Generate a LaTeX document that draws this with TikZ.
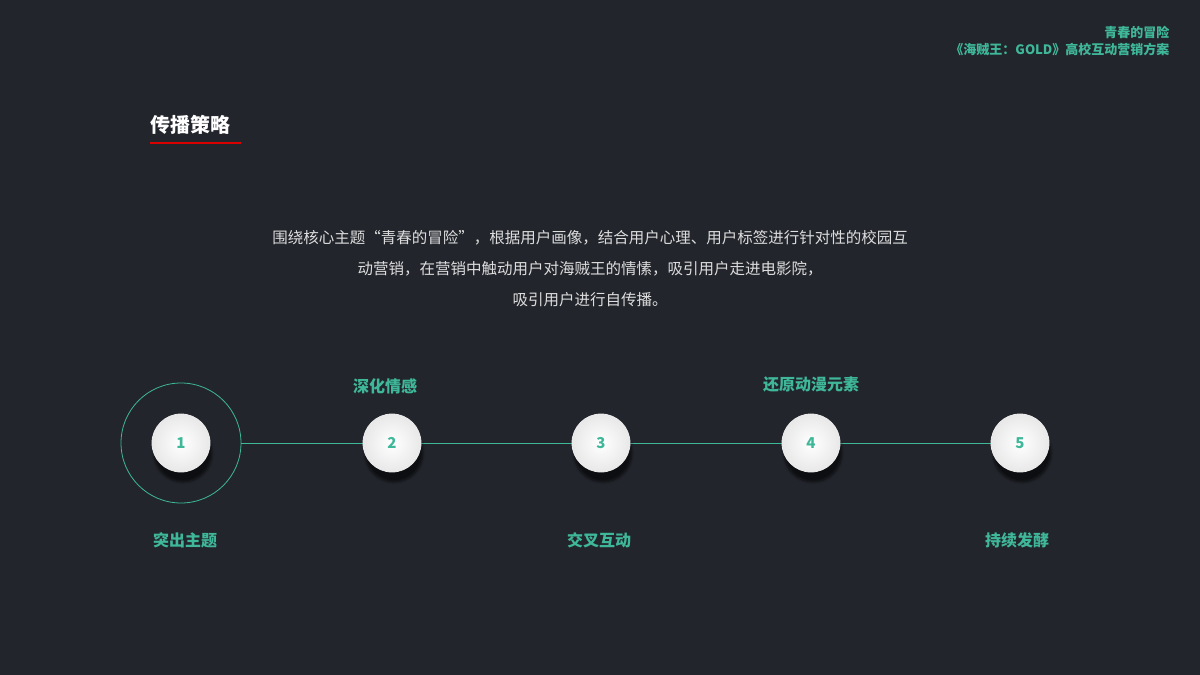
\documentclass[tikz,border=0pt]{standalone}
\usepackage{fontspec}
\setmainfont{Noto Sans CJK SC}
\usetikzlibrary{shadows.blur}
\definecolor{bg}{HTML}{22252C}
\definecolor{teal}{HTML}{3FB899}
\definecolor{txt}{HTML}{DDDDDD}
\tikzset{
  ball/.style={circle,minimum size=58pt,inner sep=0pt,draw=white!85!gray,line width=0.8pt,
    shading=radial,inner color=white,outer color=white!82!gray,
    blur shadow={shadow xshift=2pt,shadow yshift=-10pt,shadow blur steps=8,shadow opacity=60},
    text=teal,font=\fontsize{15pt}{15pt}\selectfont\bfseries},
  lab/.style={text=teal,font=\fontsize{16pt}{16pt}\selectfont\bfseries},
  hdr/.style={text=teal,font=\fontsize{13pt}{13pt}\selectfont\bfseries,anchor=east},
  para/.style={text=txt,font=\fontsize{15.5pt}{15.5pt}\selectfont}
}
\begin{document}
\begin{tikzpicture}[x=1pt,y=-1pt]
\fill[bg] (0,0) rectangle (1200,675);
\useasboundingbox (0,0) rectangle (1200,675);
\node[hdr] (h1) at (1173,32) {青春的冒险};
\node[hdr] (h2) at (1173,50) {《海贼王：GOLD》高校互动营销方案};
\node[text=white,font=\fontsize{20pt}{20pt}\selectfont\bfseries,anchor=west,inner sep=0pt] (t) at (150,125) {传播策略};
\draw[red!85!black,line width=1.8pt] (150,143) -- (241,143);
\node[para] (p1) at (590,238) {围绕核心主题“青春的冒险”，根据用户画像，结合用户心理、用户标签进行针对性的校园互};
\node[para] (p2) at (590,269) {动营销，在营销中触动用户对海贼王的情愫，吸引用户走进电影院，};
\node[para] (p3) at (590,300) {吸引用户进行自传播。};
\node[circle,draw=teal,line width=0.8pt,minimum size=120pt,inner sep=0pt] (ring) at (181,443) {};
\draw[teal,line width=0.8pt] (ring.east) -- (1020,443);
\foreach \i/\x in {1/181,2/392,3/601,4/811,5/1020}
  \node[ball] (b\i) at (\x,443) {\i};
\node[lab] (l2) at (385,386) {深化情感};
\node[lab] (l4) at (811,384) {还原动漫元素};
\node[lab] (l1) at (185,540) {突出主题};
\node[lab] (l3) at (599,540) {交叉互动};
\node[lab] (l5) at (1017,540) {持续发酵};
\end{tikzpicture}
\end{document}
